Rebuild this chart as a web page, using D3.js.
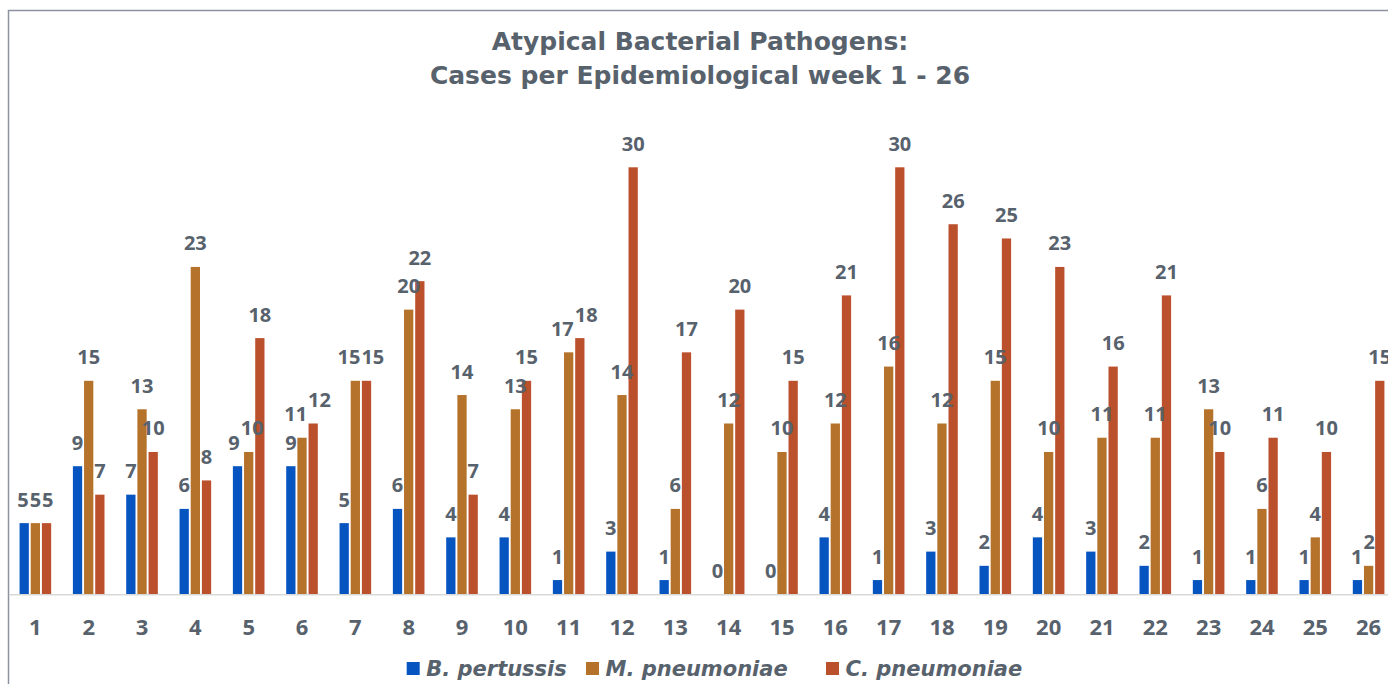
<!DOCTYPE html>
<html>
<head>
<meta charset="utf-8">
<script src="https://cdn.jsdelivr.net/npm/d3@7"></script>
<style>
  html, body { margin: 0; padding: 0; background: #fff; overflow: hidden; }
  text { font-family: "Open Sans", "DejaVu Sans", sans-serif; }
</style>
</head>
<body>
<div id="chart"></div>
<script>
var width = 1388;
var height = 684;

// data
var weeks = ["1","2","3","4","5","6","7","8","9","10","11","12","13",
             "14","15","16","17","18","19","20","21","22","23","24","25","26"];
var seriesNames = ["B. pertussis", "M. pneumoniae", "C. pneumoniae"];
var pertussis = [5,9,7,6,9,9,5,6,4,4,1,3,1,0,0,4,1,3,2,4,3,2,1,1,1,1];
var mPneumoniae = [5,15,13,23,10,11,15,20,14,13,17,14,6,12,10,12,16,12,15,10,11,11,13,6,4,2];
var cPneumoniae = [5,7,10,8,18,12,15,22,7,15,18,30,17,20,15,21,30,26,25,23,16,21,10,11,10,15];
var colors = ["#0654C0", "#B5722B", "#BB502D"];
var titleLines = ["Atypical Bacterial Pathogens:", "Cases per Epidemiological week 1 - 26"];

var textColor = "#58626d";

var rows = weeks.map(function (w, i) {
    return { week: w, values: [pertussis[i], mPneumoniae[i], cPneumoniae[i]] };
});

var svg = d3.select("#chart")
    .append("svg")
    .attr("width", width)
    .attr("height", height);

// chart frame (the chart area continues past the right edge)
svg.append("path")
    .attr("d", "M8.5," + height + "V10.5H" + width)
    .attr("fill", "none")
    .attr("stroke", "#8a939e")
    .attr("stroke-width", 1.5);

// plot area runs off the right side of the window
var x = d3.scaleBand()
    .domain(weeks)
    .range([8.7, 8.7 + 53.33 * 26]);

var x1 = d3.scaleBand()
    .domain(d3.range(seriesNames.length))
    .range([-17.7, 17.7])
    .padding(0.17);

var y = d3.scaleLinear()
    .domain([0, 30])
    .range([594.3, 167.3]);

// title
svg.append("text")
    .attr("x", 700)
    .attr("y", 50)
    .attr("text-anchor", "middle")
    .style("font-family", "'DejaVu Sans', sans-serif")
    .style("font-size", "25px")
    .style("font-weight", "bold")
    .style("fill", textColor)
    .selectAll("tspan")
    .data(titleLines)
    .enter()
    .append("tspan")
    .attr("x", 700)
    .attr("dy", function (d, i) { return i === 0 ? 0 : 34; })
    .text(function (d) { return d; });

var groups = svg.selectAll(".week")
    .data(rows)
    .enter()
    .append("g")
    .attr("class", "week")
    .attr("transform", function (d) { return "translate(" + (x(d.week) + x.bandwidth() / 2) + ",0)"; });

groups.selectAll("rect")
    .data(function (d) { return d.values; })
    .enter()
    .append("rect")
    .attr("x", function (d, i) { return x1(i); })
    .attr("width", x1.bandwidth())
    .attr("y", function (d) { return y(d); })
    .attr("height", function (d) { return y(0) - y(d); })
    .style("fill", function (d, i) { return colors[i]; });

groups.selectAll(".val")
    .data(function (d) { return d.values; })
    .enter()
    .append("text")
    .attr("class", "val")
    .attr("x", function (d, i) { return x1(i) + x1.bandwidth() / 2; })
    .attr("y", function (d) { return y(d) - 16.5; })
    .attr("text-anchor", "middle")
    .style("font-size", "20px")
    .style("font-weight", "bold")
    .style("fill", textColor)
    .text(function (d) { return d; });

// nudge neighbouring value labels apart when they sit at nearly the same height
groups.each(function () {
    var labels = d3.select(this).selectAll(".val").nodes().map(function (n) {
        return { node: n, x: +n.getAttribute("x"), y: +n.getAttribute("y"), w: n.getComputedTextLength() };
    });
    for (var k = 0; k < 3; k++) {
        for (var i = 0; i < labels.length - 1; i++) {
            var a = labels[i], b = labels[i + 1];
            if (Math.abs(a.y - b.y) >= 16) continue;
            var overlap = (a.x + a.w / 2 + 1) - (b.x - b.w / 2);
            if (overlap > 0) {
                a.x -= overlap / 2;
                b.x += overlap / 2;
            }
        }
    }
    labels.forEach(function (l) { l.node.setAttribute("x", l.x); });
});

// category axis
var xAxis = d3.axisBottom(x).tickSize(0).tickPadding(0);
var axisG = svg.append("g")
    .attr("transform", "translate(0," + y(0) + ")")
    .call(xAxis);
axisG.select(".domain").attr("stroke", "#d9d9d9").attr("stroke-width", 1.5);
axisG.selectAll("text")
    .attr("y", 40.5)
    .attr("dy", null)
    .style("font-size", "22px")
    .style("font-weight", "bold")
    .style("font-family", "'Open Sans', sans-serif")
    .style("fill", textColor);

// legend
var legendX = [406.7, 586, 826];
var legend = svg.selectAll(".legend")
    .data(seriesNames)
    .enter()
    .append("g")
    .attr("class", "legend")
    .attr("transform", function (d, i) { return "translate(" + legendX[i] + ",662)"; });

legend.append("rect")
    .attr("width", 13)
    .attr("height", 13)
    .style("fill", function (d, i) { return colors[i]; });

legend.append("text")
    .attr("x", 19.5)
    .attr("y", 14)
    .style("font-family", "'DejaVu Sans', sans-serif")
    .style("font-size", "21px")
    .style("font-weight", "bold")
    .style("font-style", "italic")
    .style("fill", textColor)
    .text(function (d) { return d; });
</script>
</body>
</html>
